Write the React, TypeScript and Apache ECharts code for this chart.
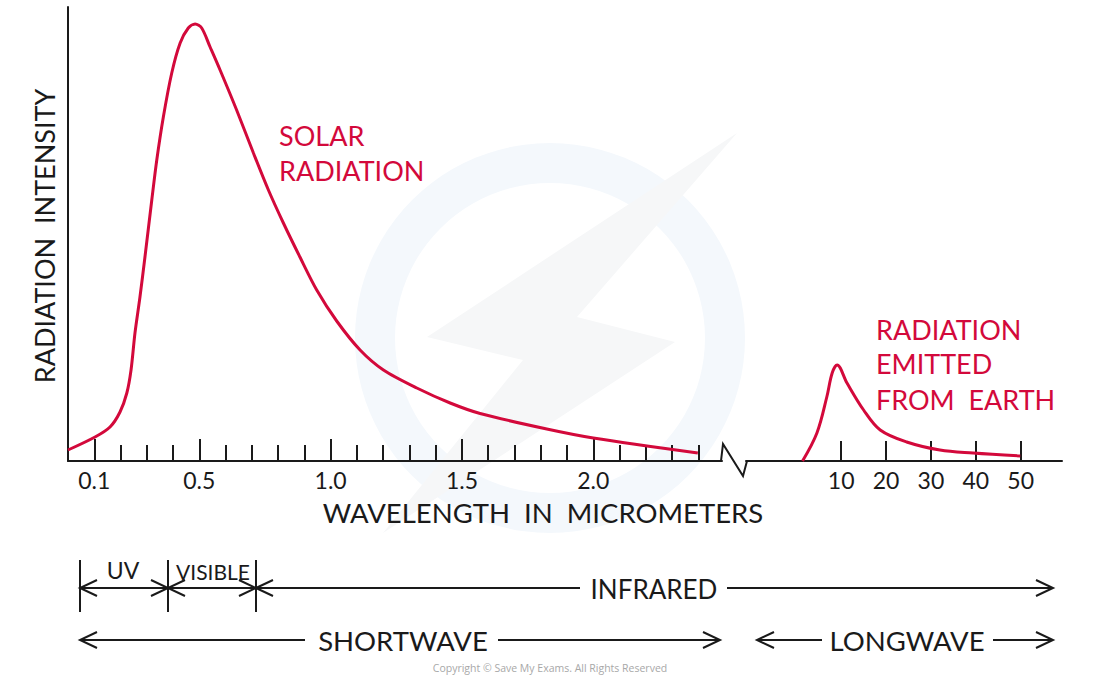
import React, { useEffect, useRef } from "react";
import * as echarts from "echarts";

// Solar radiation curve (wavelength in µm, relative intensity)
const solarWavelength = [0, 0.103, 0.16, 0.198, 0.224, 0.24, 0.255, 0.274, 0.293, 0.319, 0.338, 0.363, 0.395, 0.427, 0.458, 0.484, 0.509, 0.541, 0.579, 0.642, 0.706, 0.763, 0.82, 0.883, 0.947, 1.023, 1.112, 1.201, 1.328, 1.455, 1.569, 1.823, 2.0, 2.398];
const solarIntensity = [11, 24, 34, 49, 68, 91, 128, 164, 204, 261, 301, 344, 388, 418, 433, 437, 433, 414, 391, 351, 308, 271, 238, 204, 171, 140, 111, 91, 73, 58, 47.5, 32, 23, 8];

// Earth radiation curve (wavelength in µm, relative intensity)
const earthWavelength = [1.4, 4.6, 6.8, 8.0, 9.1, 11.3, 15.0, 18.7, 24.6, 32.0, 39.4, 49.9];
const earthIntensity = [0, 28, 64, 88, 96, 78, 51, 31, 19, 11, 8, 5];

// Tick labels
const shortMajorTicks = [0.1, 0.5, 1.0, 1.5, 2.0];
const shortMinorTicks = [0.2, 0.3, 0.4, 0.6, 0.7, 0.8, 0.9, 1.1, 1.2, 1.3, 1.4, 1.6, 1.7, 1.8, 1.9, 2.1, 2.2, 2.3, 2.4];
const longTicks = [10, 20, 30, 40, 50];

const RED = "#d3093b";
const INK = "#1a1a1a";
const FONT = "Lato";

function head(tipX: number, y: number, dir: number) {
  return {
    type: "polyline",
    shape: { points: [[tipX - dir * 17, y - 8], [tipX, y], [tipX - dir * 17, y + 8]] },
    style: { stroke: INK, lineWidth: 2, fill: null },
  };
}
function seg(x1: number, y1: number, x2: number, y2: number) {
  return { type: "line", shape: { x1, y1, x2, y2 }, style: { stroke: INK, lineWidth: 2 } };
}
function txt(x: number, y: number, text: string, size: number, fill: string, align = "center") {
  return {
    type: "text",
    x,
    y,
    style: { text, fill, fontSize: size, fontFamily: FONT, textAlign: align, textVerticalAlign: "middle" },
  };
}

export default function App() {
  const ref = useRef<HTMLDivElement>(null);
  useEffect(() => {
    if (!ref.current) return;
    const chart = echarts.init(ref.current, null, { renderer: "svg" });
    const yBase = { min: 0, max: 454, splitLine: { show: false }, axisTick: { show: false }, axisLabel: { show: false } };
    const option: any = {
      animation: false,
      backgroundColor: "#ffffff",
      grid: [
        { left: 68, top: 7, width: 654, height: 454 },
        { left: 746, top: 7, width: 316, height: 454 },
        { left: 68, top: 7, width: 654, height: 454 },
      ],
      xAxis: [
        {
          type: "value", gridIndex: 0, min: 0, max: 2.49, position: "bottom",
          axisLine: { show: true, lineStyle: { color: INK, width: 2 } },
          axisTick: { show: true, inside: true, length: 16, customValues: shortMinorTicks, lineStyle: { color: INK, width: 2 } },
          axisLabel: { show: true, customValues: shortMajorTicks, formatter: (v: number) => v.toFixed(1), color: INK, fontSize: 23, fontFamily: FONT, margin: 7 },
          splitLine: { show: false },
        },
        {
          type: "value", gridIndex: 1, min: -11.2, max: 59.2, position: "bottom",
          axisLine: { show: true, lineStyle: { color: INK, width: 2 } },
          axisTick: { show: true, inside: true, length: 20, customValues: longTicks, lineStyle: { color: INK, width: 2 } },
          axisLabel: { show: true, customValues: longTicks, formatter: (v: number) => String(v), color: INK, fontSize: 23, fontFamily: FONT, margin: 7 },
          splitLine: { show: false },
        },
        {
          type: "value", gridIndex: 2, min: 0, max: 2.49, position: "bottom",
          axisLine: { show: false },
          axisTick: { show: true, inside: true, length: 22, customValues: shortMajorTicks, lineStyle: { color: INK, width: 2 } },
          axisLabel: { show: false },
          splitLine: { show: false },
        },
      ],
      yAxis: [
        { type: "value", gridIndex: 0, ...yBase, axisLine: { show: true, lineStyle: { color: INK, width: 2 } } },
        { type: "value", gridIndex: 1, ...yBase, axisLine: { show: false } },
        { type: "value", gridIndex: 2, ...yBase, axisLine: { show: false } },
      ],
      series: [
        {
          type: "line", name: "Solar radiation", xAxisIndex: 0, yAxisIndex: 0,
          data: solarWavelength.map((w, i) => [w, solarIntensity[i]]),
          smooth: 0.3, showSymbol: false, lineStyle: { color: RED, width: 3 }, z: 5,
        },
        {
          type: "line", name: "Radiation emitted from Earth", xAxisIndex: 1, yAxisIndex: 1,
          data: earthWavelength.map((w, i) => [w, earthIntensity[i]]),
          smooth: 0.35, showSymbol: false, lineStyle: { color: RED, width: 3 }, z: 5,
        },
      ],
      graphic: [
        // faint watermark
        { type: "ring", z: -10, shape: { cx: 550, cy: 338, r: 195, r0: 155 }, style: { fill: "#f4f8fc" } },
        {
          type: "polygon", z: -9,
          shape: { points: [[737, 133], [427, 337], [523, 360], [383, 533], [675, 342], [577, 317]] },
          style: { fill: "#f6f7f8" },
        },
        // axis break
        { type: "polyline", shape: { points: [[721, 461], [723, 444], [743, 476], [747, 461]] }, style: { stroke: INK, lineWidth: 2, fill: null } },
        // titles
        { ...txt(44, 236, "RADIATION  INTENSITY", 27, INK), rotation: Math.PI / 2 },
        txt(543, 512, "WAVELENGTH  IN  MICROMETERS", 27.5, INK),
        txt(279, 135, "SOLAR", 27, RED, "left"),
        txt(279, 170, "RADIATION", 27, RED, "left"),
        txt(876, 329, "RADIATION", 27, RED, "left"),
        txt(876, 363, "EMITTED", 27, RED, "left"),
        txt(876, 399, "FROM  EARTH", 27, RED, "left"),
        // spectrum bands
        seg(80, 560, 80, 612),
        seg(168, 560, 168, 612),
        seg(256, 560, 256, 612),
        seg(80, 588, 168, 588),
        seg(168, 588, 256, 588),
        seg(256, 588, 580, 588),
        seg(727, 588, 1053, 588),
        head(80, 588, -1),
        head(168, 588, 1),
        head(168, 588, -1),
        head(256, 588, 1),
        head(256, 588, -1),
        head(1053, 588, 1),
        txt(123, 570, "UV", 23, INK),
        txt(213, 571, "VISIBLE", 21, INK),
        txt(654, 589, "INFRARED", 26, INK),
        seg(80, 640, 305, 640),
        seg(498, 640, 720, 640),
        head(80, 640, -1),
        head(720, 640, 1),
        txt(403, 640, "SHORTWAVE", 27.5, INK),
        seg(757, 640, 822, 640),
        seg(993, 640, 1053, 640),
        head(757, 640, -1),
        head(1053, 640, 1),
        txt(907, 640, "LONGWAVE", 27.5, INK),
        {
          type: "text", x: 550, y: 668,
          style: { text: "Copyright © Save My Exams. All Rights Reserved", fill: "#a8a8a8", fontSize: 10.5, fontFamily: "Open Sans", textAlign: "center", textVerticalAlign: "middle" },
        },
      ],
    };
    chart.setOption(option);
    return () => chart.dispose();
  }, []);
  return <div ref={ref} style={{ position: "fixed", left: 0, top: 0, width: 1100, height: 679 }} />;
}
